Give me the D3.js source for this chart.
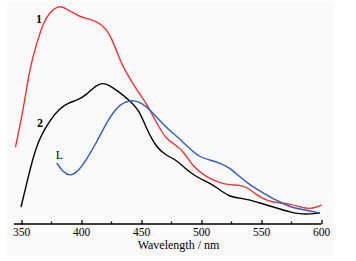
<!DOCTYPE html>
<html>
<head>
<meta charset="utf-8">
<script src="https://cdn.jsdelivr.net/npm/d3@7"></script>
<style>
  body { margin: 0; background: #ffffff; }
  text { font-family: "Liberation Serif", "DejaVu Serif", serif; }
</style>
</head>
<body>
<div id="viz"></div>
<script>
// Spectra: [wavelength nm, intensity a.u.]
const curve1 = [
    [345, 77], [351.5, 114], [357, 157], [362.8, 181], [368, 201], [373.8, 212],
    [380.4, 218], [384.6, 217], [392, 212], [398.8, 207], [407, 205], [415.4, 201],
    [423.8, 191], [432, 164], [436, 154], [446, 134], [454, 121], [462.5, 101],
    [471, 84], [479, 79], [486, 71], [493, 57], [504, 47], [515.4, 41],
    [523.8, 39], [532, 39], [537.9, 37], [546, 29], [554.6, 23], [565.4, 21],
    [573.8, 20], [582, 17], [590.4, 15], [596, 17], [600, 19]
];
const curve2 = [
    [349.6, 17], [354.4, 41], [359.7, 67], [365.4, 87], [373.8, 104], [382, 116],
    [388.8, 121], [397, 124], [404, 129], [412.3, 139], [417.5, 141], [423, 139],
    [431.3, 132], [439.6, 124], [448, 114], [453.5, 97], [462, 77], [470, 69],
    [479, 64], [486, 56], [495.6, 47], [507, 41], [515.4, 34], [523.8, 27],
    [532, 26], [540.4, 24], [548.8, 21], [557, 18], [565.4, 15], [573.8, 12],
    [582, 10], [590.4, 10], [598.8, 11]
];
const curveL = [
    [379.4, 61], [384.6, 52], [390.4, 48], [396, 51], [404, 64], [412.3, 81],
    [420.6, 101], [429, 116], [435.4, 122], [443.8, 124], [450, 121], [457.4, 114],
    [464.6, 104], [473, 94], [481, 86], [489.6, 76], [498, 67], [507, 64],
    [515.4, 61], [523.8, 56], [532, 47], [540.4, 39], [548.8, 33], [557, 27],
    [565.4, 22], [573.8, 17], [582, 15], [590.4, 13], [598.8, 11]
];
const majorTicks = [350, 400, 450, 500, 550, 600];
const minorTicks = [375, 425, 475, 525, 575];
const seriesNames = ["1", "2", "L"];
const seriesColors = ["#f03232", "#000000", "#2f5cbd"];
// where each series name sits, in data units
const labelAt = [[364.6, 205], [365.4, 101], [381.5, 69]];
const xTitle = "Wavelength / nm";

const dims = { width: 356, height: 261, left: 21.5, right: 321.5, axisY: 224 };

const svg = d3.select("#viz")
    .append("svg")
    .attr("width", dims.width)
    .attr("height", dims.height);

// faint scan background
svg.append("rect")
    .attr("x", 7).attr("y", 2)
    .attr("width", 326).attr("height", 254)
    .style("fill", "#fafafa");

const xScale = d3.scaleLinear()
    .domain([350, 600])
    .range([dims.left, dims.right]);

const yScale = d3.scaleLinear()
    .domain([0, 224])
    .range([dims.axisY, 0]);

// x axis: ticks point upward
const axis = d3.axisTop(xScale)
    .tickValues(majorTicks)
    .tickSize(4)
    .tickFormat("");

const axisG = svg.append("g")
    .attr("transform", `translate(0,${dims.axisY})`)
    .call(axis);
axisG.select(".domain").remove();
axisG.selectAll(".tick line").style("stroke", "#000").style("stroke-width", 1.3);

axisG.append("line")
    .attr("x1", 14).attr("x2", xScale(600))
    .style("stroke", "#000").style("stroke-width", 1.3);

axisG.selectAll(".minor")
    .data(minorTicks)
    .join("line")
    .attr("class", "minor")
    .attr("x1", d => xScale(d)).attr("x2", d => xScale(d))
    .attr("y1", 0).attr("y2", -2.5)
    .style("stroke", "#000").style("stroke-width", 1.2);

axisG.selectAll(".lbl")
    .data(majorTicks)
    .join("text")
    .attr("class", "lbl")
    .attr("x", d => xScale(d))
    .attr("y", 12)
    .style("text-anchor", "middle")
    .style("font-size", "11.5px")
    .style("fill", "#000")
    .text(d => d);

svg.append("text")
    .attr("x", 178.5)
    .attr("y", 249)
    .style("text-anchor", "middle")
    .style("font-size", "12px")
    .text(xTitle);

// curves
const line = d3.line()
    .x(d => xScale(d[0]))
    .y(d => yScale(d[1]))
    .curve(d3.curveBasis);

const allSeries = [curve1, curve2, curveL];
svg.append("g")
    .selectAll("path")
    .data(allSeries)
    .join("path")
    .attr("d", d => line(d))
    .style("fill", "none")
    .style("stroke", (d, i) => seriesColors[i])
    .style("stroke-width", 1.4);

// series labels
svg.selectAll(".series-label")
    .data(seriesNames)
    .join("text")
    .attr("class", "series-label")
    .attr("x", (d, i) => xScale(labelAt[i][0]))
    .attr("y", (d, i) => yScale(labelAt[i][1]) + 4)
    .style("text-anchor", "middle")
    .style("font-size", "12px")
    .style("font-weight", (d, i) => i < 2 ? "bold" : "normal")
    .text(d => d);
</script>
</body>
</html>
